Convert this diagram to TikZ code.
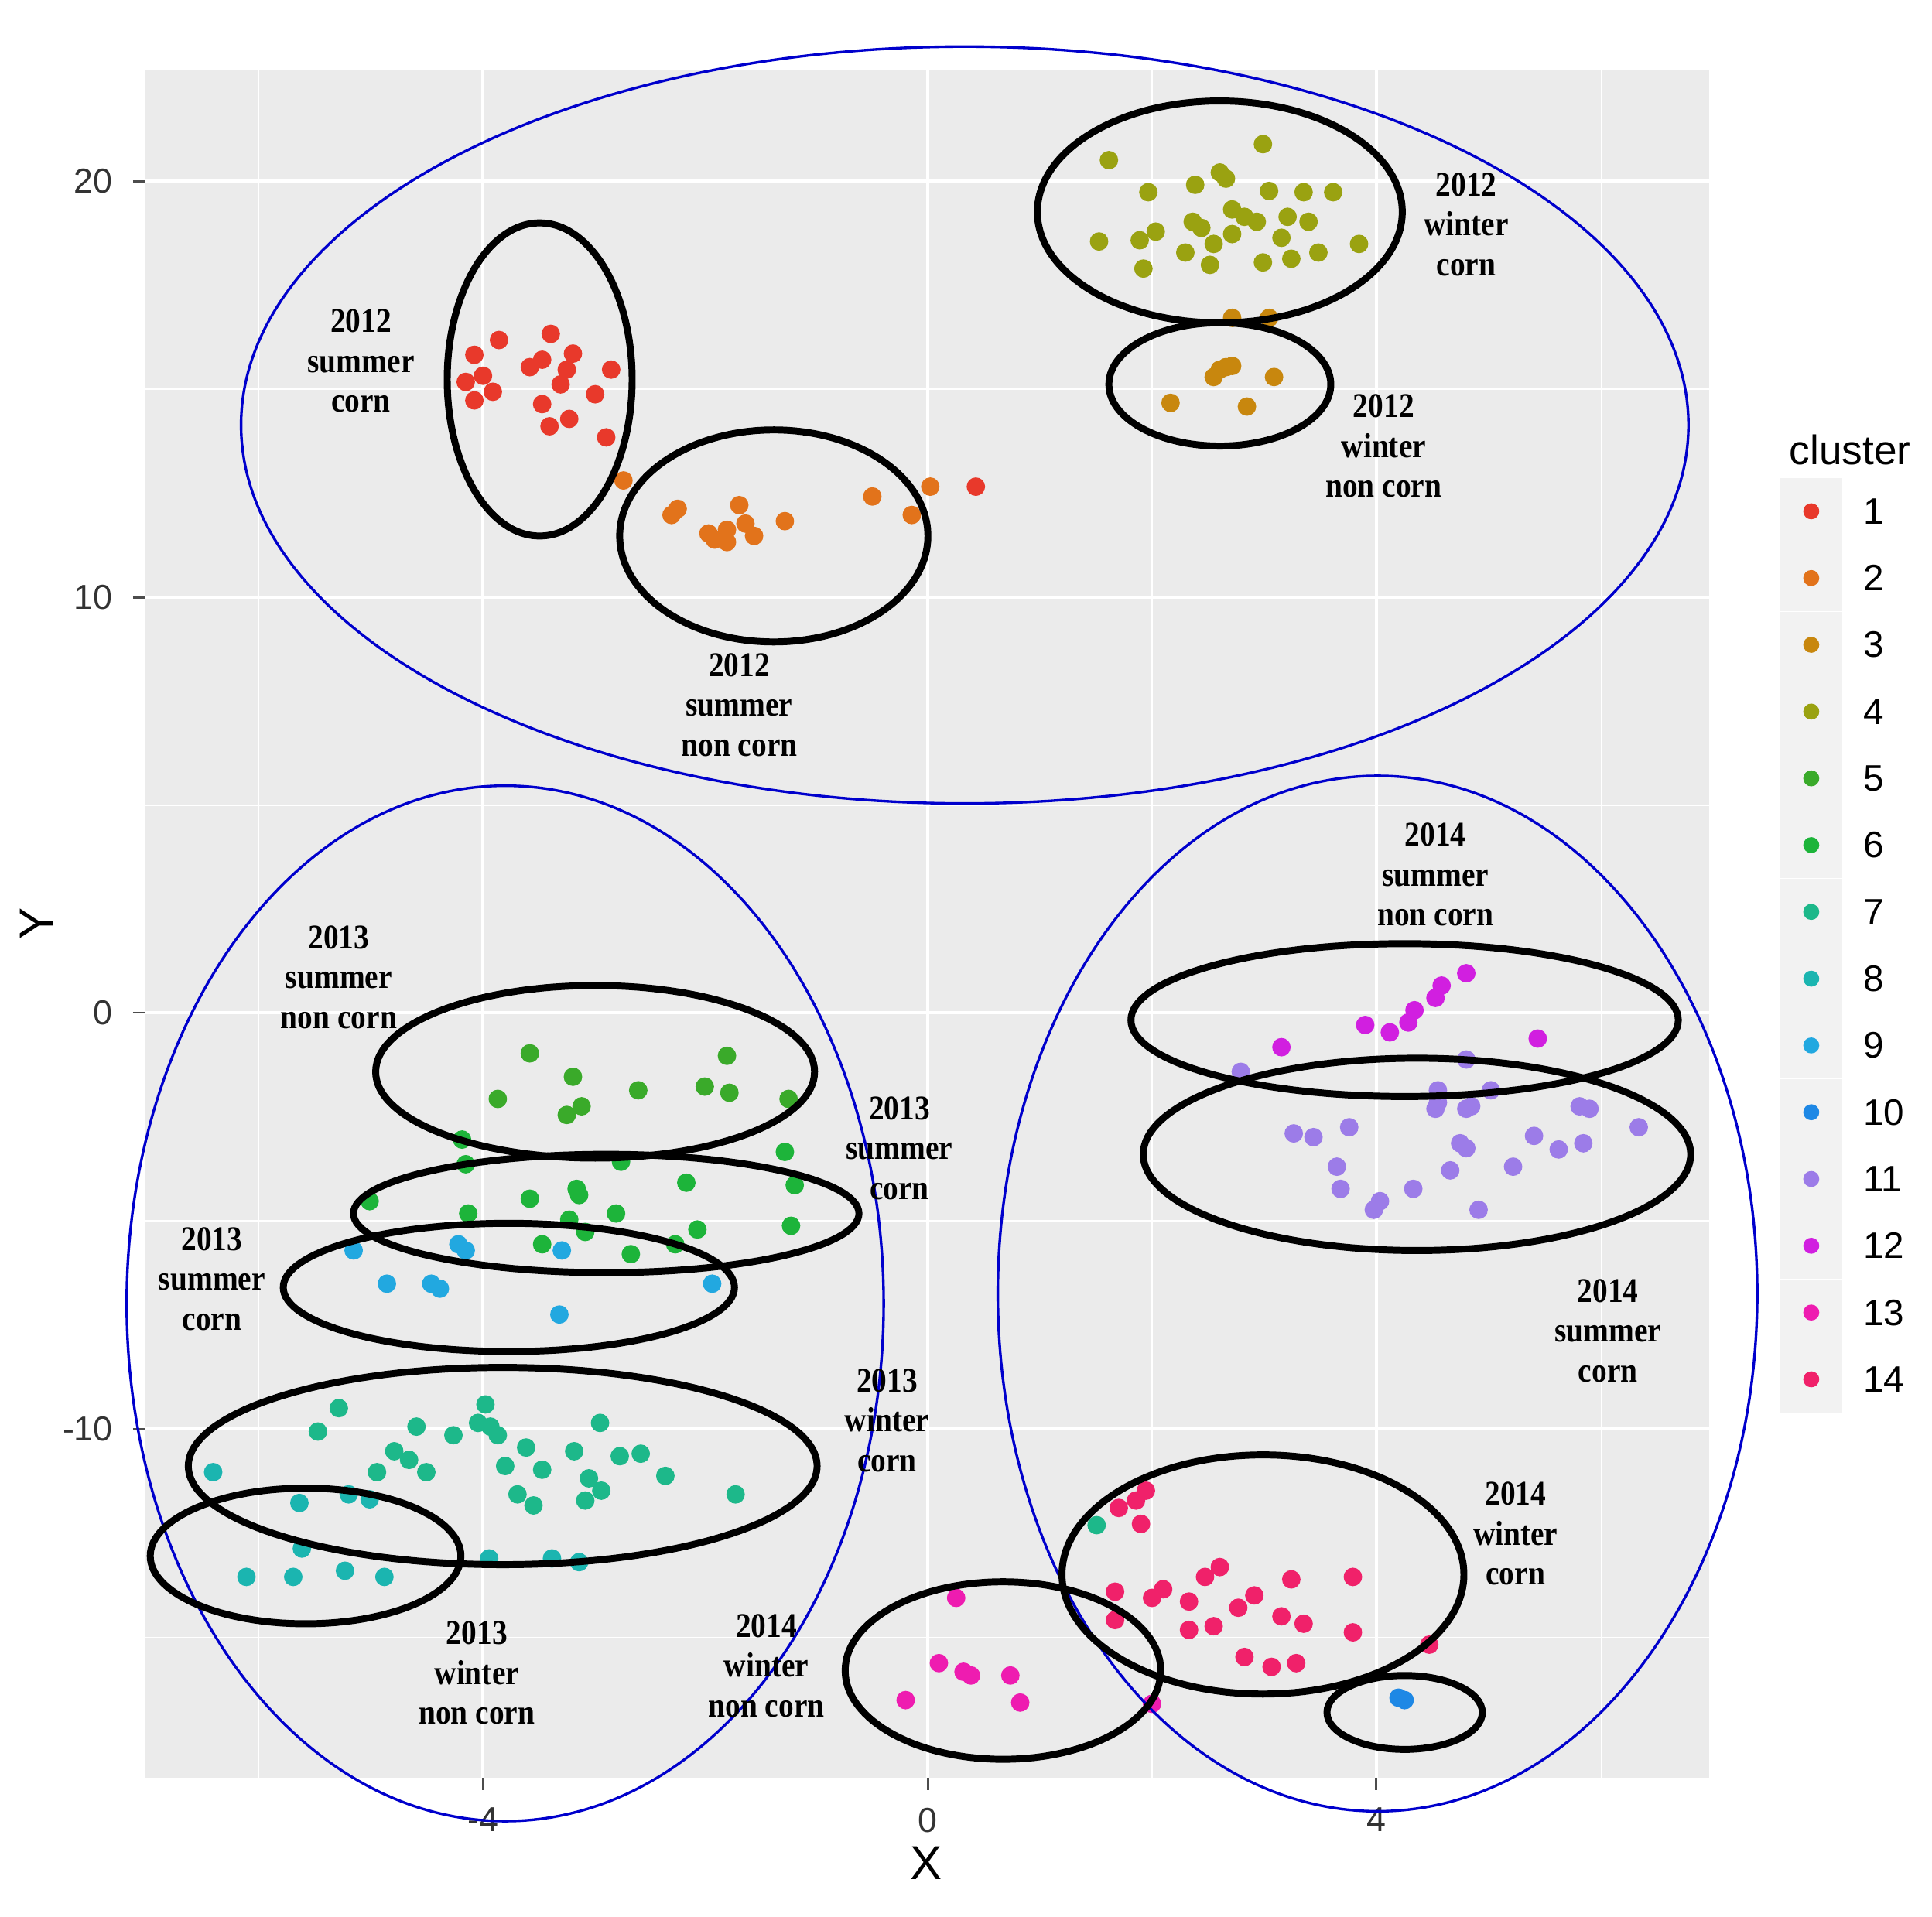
\documentclass[tikz,border=0pt]{standalone}
\usepackage{fontspec}
\setmainfont{Liberation Serif}
\newfontfamily\axfont{Liberation Sans}
\definecolor{panel}{HTML}{EBEBEB}
\definecolor{keybg}{HTML}{F2F2F2}
\definecolor{kA}{HTML}{E8392B}
\definecolor{kB}{HTML}{E2731B}
\definecolor{kC}{HTML}{C8870E}
\definecolor{kD}{HTML}{9AA211}
\definecolor{kE}{HTML}{3AAA2A}
\definecolor{kF}{HTML}{1DB43A}
\definecolor{kG}{HTML}{1DB88A}
\definecolor{kH}{HTML}{1BB5B0}
\definecolor{kI}{HTML}{22A8E0}
\definecolor{kJ}{HTML}{1E88E5}
\definecolor{kK}{HTML}{9C7CE8}
\definecolor{kL}{HTML}{D11FE0}
\definecolor{kM}{HTML}{EE1CB0}
\definecolor{kN}{HTML}{F0216A}
\begin{document}
\begin{tikzpicture}[x=0.01cm,y=-0.01cm,
  lab/.style={font=\bfseries\fontsize{8}{9.2}\selectfont,align=center,inner sep=0,xscale=0.88},
  tick/.style={font=\axfont\fontsize{8}{9}\selectfont,text=black!80},
  blu/.style={draw=blue!80!black,line width=0.6pt},
  blk/.style={draw=black,line width=1.6pt}]
\useasboundingbox[fill=white] (0,0) rectangle (1568,1556);
\fill[panel] (118,57) rectangle (1387,1443);
\foreach \gx in {210,573,935,1300} \draw[white,line width=0.3pt] (\gx,57)--(\gx,1443);
\foreach \gy in {316,654,991,1329} \draw[white,line width=0.3pt] (118,\gy)--(1387,\gy);
\foreach \gx in {392,753,1117} \draw[white,line width=0.7pt] (\gx,57)--(\gx,1443);
\foreach \gy in {147,485,822,1160} \draw[white,line width=0.7pt] (118,\gy)--(1387,\gy);
% ticks
\foreach \gy/\t in {147/20,485/10,822/0,1160/-10}{
  \draw[black!70,line width=0.5pt] (108,\gy)--(118,\gy);
  \node[tick,anchor=east] (ty\gy) at (104,\gy) {\t};}
\foreach \gx/\t in {392/-4,753/0,1117/4}{
  \draw[black!70,line width=0.5pt] (\gx,1443)--(\gx,1453);
  \node[tick,anchor=north] (tx\gx) at (\gx,1455) {\t};}
\node[font=\axfont\fontsize{11}{11}\selectfont] (xt) at (752,1512) {X};
\node[font=\axfont\fontsize{11}{11}\selectfont,rotate=90] (yt) at (30,750) {Y};
% points
\def\pts#1#2{\foreach \px/\py in {#2} \fill[#1] (\px,\py) circle (0.075cm);}
\pts{kA}{405/276,447/271,465/287,385/288,440/292,496/300,392/305,430/298,460/300,378/310,400/318,455/312,385/325,440/328,483/320,462/340,446/346,492/355,792/395}
\pts{kB}{506/390,545/418,550/413,575/433,590/430,600/410,605/425,612/435,590/440,580/438,637/423,708/403,740/418,755/395}
\pts{kC}{950/327,990/300,995/298,1000/297,985/306,1012/330,1034/306,1000/258,1030/258}
\pts{kD}{900/130,1025/117,932/156,970/150,990/140,995/145,1030/155,1058/156,1082/156,892/196,925/195,938/188,968/180,975/185,1000/190,1020/180,1045/176,1062/180,1040/193,1070/205,1103/198,962/205,982/215,1025/213,1048/210,928/218,1000/170,1010/176,985/198}
\pts{kE}{430/855,465/874,590/857,404/892,460/905,472/898,518/885,572/882,592/887,640/892}
\pts{kF}{375/925,378/945,504/943,637/935,300/975,430/973,468/965,470/970,500/985,557/960,645/962,380/985,462/990,475/1000,512/1018,548/1010,566/998,642/995,440/1010}
\pts{kI}{287/1015,314/1042,350/1042,357/1046,372/1010,378/1015,456/1015,454/1067,578/1042}
\pts{kG}{275/1143,258/1162,320/1178,338/1158,368/1165,394/1140,398/1158,404/1165,388/1155,427/1175,466/1178,487/1155,503/1182,520/1180,306/1195,332/1185,346/1195,410/1190,440/1193,478/1200,488/1210,540/1198,420/1213,433/1222,475/1218,597/1213,890/1238}
\pts{kH}{173/1195,243/1220,283/1213,300/1217,245/1257,397/1265,448/1265,470/1268,200/1280,238/1280,280/1275,312/1280}
\pts{kK}{1007/870,1167/885,1190/860,1210/885,1165/900,1190/900,1050/920,1066/923,1095/915,1185/928,1190/932,1245/922,1265/933,1282/898,1290/900,1285/928,1330/915,1085/947,1088/965,1115/982,1120/975,1147/965,1177/950,1200/982,1228/947,1167/895,1194/898}
\pts{kL}{1040/850,1108/832,1128/838,1143/830,1148/820,1165/810,1170/800,1190/790,1248/843}
\pts{kM}{776/1297,762/1350,782/1357,788/1360,820/1360,735/1380,828/1382,935/1383}
\pts{kN}{908/1224,922/1218,930/1210,926/1237,905/1292,935/1297,944/1290,905/1315,965/1323,985/1320,978/1280,990/1272,1005/1305,1018/1295,1040/1312,1058/1318,1048/1282,1098/1280,1098/1325,1010/1345,1032/1353,1052/1350,1160/1335,965/1300}
\pts{kJ}{1135/1378,1140/1380}
% blue ellipses
\draw[blu] (783,345) ellipse [x radius=5.87cm,y radius=3.07cm];
\draw[blu] (410,1058) ellipse [x radius=3.07cm,y radius=4.20cm];
\draw[blu] (1118,1050) ellipse [x radius=3.08cm,y radius=4.20cm];
% black ellipses
\draw[blk] (438,308) ellipse [x radius=0.75cm,y radius=1.27cm];
\draw[blk] (628,435) ellipse [x radius=1.25cm,y radius=0.86cm];
\draw[blk] (990,172) ellipse [x radius=1.48cm,y radius=0.90cm];
\draw[blk] (990,312) ellipse [x radius=0.90cm,y radius=0.50cm];
\draw[blk] (483,870) ellipse [x radius=1.78cm,y radius=0.70cm];
\draw[blk] (492,985) ellipse [x radius=2.05cm,y radius=0.48cm];
\draw[blk] (413,1045) ellipse [x radius=1.83cm,y radius=0.52cm];
\draw[blk] (408,1190) ellipse [x radius=2.55cm,y radius=0.80cm];
\draw[blk] (248,1263) ellipse [x radius=1.26cm,y radius=0.55cm];
\draw[blk] (1140,828) ellipse [x radius=2.22cm,y radius=0.62cm];
\draw[blk] (1150,937) ellipse [x radius=2.22cm,y radius=0.78cm];
\draw[blk] (1025,1278) ellipse [x radius=1.63cm,y radius=0.97cm];
\draw[blk] (814,1356) ellipse [x radius=1.28cm,y radius=0.72cm];
\draw[blk] (1140,1390) ellipse [x radius=0.63cm,y radius=0.30cm];
% labels
\node[lab] (l1) at (293,293) {2012\\summer\\corn};
\node[lab] (l2) at (600,572) {2012\\summer\\non corn};
\node[lab] (l3) at (1190,182) {2012\\winter\\corn};
\node[lab] (l4) at (1123,362) {2012\\winter\\non corn};
\node[lab] (l5) at (275,793) {2013\\summer\\non corn};
\node[lab] (l6) at (730,932) {2013\\summer\\corn};
\node[lab] (l7) at (172,1038) {2013\\summer\\corn};
\node[lab] (l8) at (720,1153) {2013\\winter\\corn};
\node[lab] (l9) at (387,1358) {2013\\winter\\non corn};
\node[lab] (l10) at (622,1352) {2014\\winter\\non corn};
\node[lab] (l11) at (1165,710) {2014\\summer\\non corn};
\node[lab] (l12) at (1305,1080) {2014\\summer\\corn};
\node[lab] (l13) at (1230,1245) {2014\\winter\\corn};
% legend
\node[font=\axfont\fontsize{9.5}{10}\selectfont,anchor=west] (lt) at (1440,365) {cluster};
\foreach \i/\c in {1/kA,2/kB,3/kC,4/kD,5/kE,6/kF,7/kG,8/kH,9/kI,10/kJ,11/kK,12/kL,13/kM,14/kN}{
  \pgfmathsetmacro\ky{415+54.2*(\i-1)}
  \fill[keybg] (1445,\ky-27) rectangle (1495,\ky+27);
  \fill[\c] (1470,\ky) circle (0.065cm);
  \node[font=\axfont\fontsize{8.5}{9}\selectfont,anchor=west] (k\i) at (1500,\ky) {\i};}
\end{tikzpicture}
\end{document}
